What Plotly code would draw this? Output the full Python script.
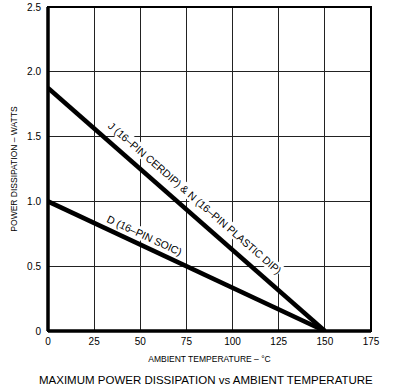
import plotly.graph_objects as go

# Data
temps = [0, 150]
power_j_n = [1.875, 0.0]   # J (16-PIN CERDIP) & N (16-PIN PLASTIC DIP)
power_d = [1.0, 0.0]       # D (16-PIN SOIC)
x_ticks = [0, 25, 50, 75, 100, 125, 150, 175]
x_tick_labels = ["0", "25", "50", "75", "100", "125", "150", "175"]
y_ticks = [0, 0.5, 1.0, 1.5, 2.0, 2.5]
y_tick_labels = ["0", "0.5", "1.0", "1.5", "2.0", "2.5"]
label_jn = "J (16–PIN CERDIP) & N (16–PIN PLASTIC DIP)"
label_d = "D (16–PIN SOIC)"

font_family = "Liberation Sans, Arial, sans-serif"

fig = go.Figure()
fig.add_trace(go.Scatter(x=temps, y=power_j_n, mode="lines",
                         line=dict(color="black", width=4.5), showlegend=False))
fig.add_trace(go.Scatter(x=temps, y=power_d, mode="lines",
                         line=dict(color="black", width=4.5), showlegend=False))

fig.update_layout(
    width=399, height=388,
    margin=dict(l=48, r=28, t=7, b=57),
    paper_bgcolor="white", plot_bgcolor="white",
    font=dict(family=font_family, color="black"),
    xaxis=dict(range=[0, 175], tickvals=x_ticks, ticktext=x_tick_labels,
               showgrid=True, gridcolor="#222", gridwidth=1, automargin=False,
               zeroline=False, showline=False, ticks="",
               tickfont=dict(size=10), ticklabelstandoff=3,
               title=dict(text="AMBIENT TEMPERATURE – °C", font=dict(size=8.5), standoff=10)),
    yaxis=dict(range=[0, 2.5], tickvals=y_ticks, ticktext=y_tick_labels,
               showgrid=True, gridcolor="#222", gridwidth=1, automargin=False,
               zeroline=False, showline=False, ticks="",
               tickfont=dict(size=10), ticklabelstandoff=6,
               title=dict(text="POWER DISSIPATION – WATTS", font=dict(size=8.5), standoff=8)),
)

# Frame
fig.add_shape(type="rect", xref="paper", yref="paper", x0=0, y0=0, x1=1, y1=1,
              line=dict(color="black", width=2))
fig.add_shape(type="line", xref="paper", yref="paper", x0=0, y0=0, x1=0, y1=1,
              line=dict(color="black", width=3.5))
fig.add_shape(type="line", xref="paper", yref="paper", x0=0, y0=0, x1=1, y1=0,
              line=dict(color="black", width=3.5))

fig.add_annotation(x=78, y=1.0, text=label_jn, showarrow=False, textangle=41,
                   xshift=3, yshift=3,
                   font=dict(size=10.5, family=font_family), bgcolor="white", borderpad=0)
fig.add_annotation(x=51.5, y=0.725, text=label_d, showarrow=False, textangle=25,
                   xshift=1, yshift=2,
                   font=dict(size=10.5, family=font_family), bgcolor="white", borderpad=0)

fig.add_annotation(xref="paper", yref="paper", x=0.49, y=-0.15, yanchor="middle",
                   xanchor="center", showarrow=False,
                   text="MAXIMUM POWER DISSIPATION vs AMBIENT TEMPERATURE",
                   font=dict(size=11.5, family=font_family))

fig.write_html("out.html", config={"displayModeBar": False},
               post_script="document.body.style.margin='0';")
